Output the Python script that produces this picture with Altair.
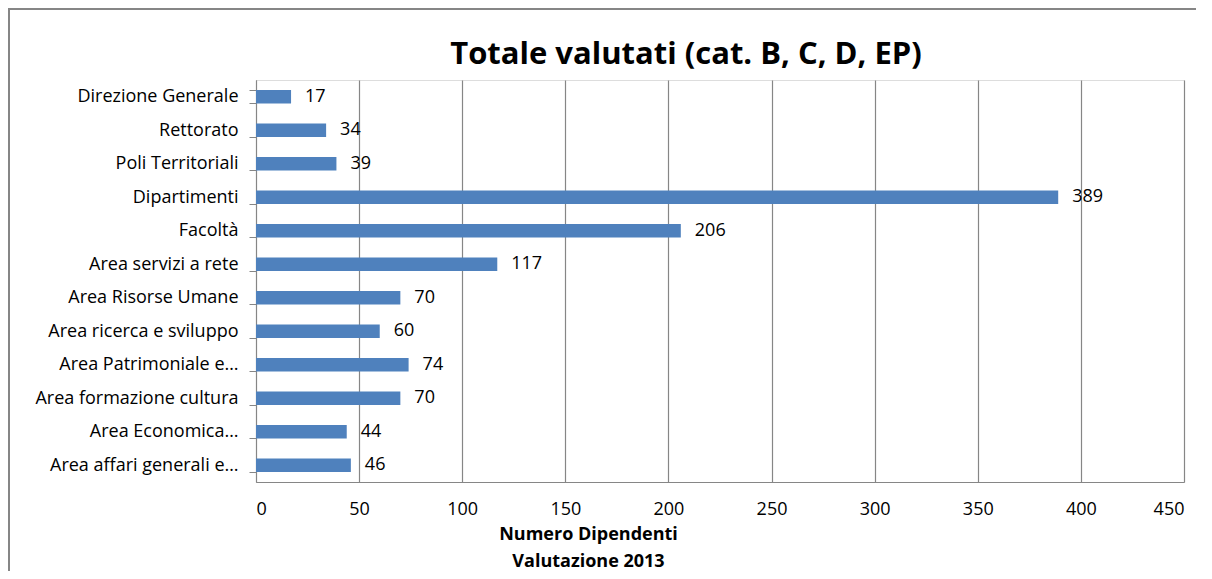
import altair as alt
import pandas as pd

categories = [
    "Direzione Generale",
    "Rettorato",
    "Poli Territoriali",
    "Dipartimenti",
    "Facoltà",
    "Area servizi a rete",
    "Area Risorse Umane",
    "Area ricerca e sviluppo",
    "Area Patrimoniale e…",
    "Area formazione cultura",
    "Area Economica…",
    "Area affari generali e…",
]
values = [17, 34, 39, 389, 206, 117, 70, 60, 74, 70, 44, 46]
x_ticks = [0, 50, 100, 150, 200, 250, 300, 350, 400, 450]
chart_title = "Totale valutati (cat. B, C, D, EP)"

df = pd.DataFrame({"cat": categories, "val": values})

FONT = "Open Sans"
GRAY = "#868686"
W, H = 928, 402

y_enc = alt.Y(
    "cat:N",
    sort=categories,
    scale=alt.Scale(paddingInner=0.6, paddingOuter=0.3),
    axis=alt.Axis(
        title=None,
        tickBand="extent",
        tickSize=7,
        tickColor=GRAY,
        domainColor=GRAY,
        labelPadding=11,
        labelFontSize=18,
        labelColor="#000000",
        labelFont=FONT,
        labelLimit=300,
        grid=False,
    ),
)

x_enc = alt.X(
    "val:Q",
    scale=alt.Scale(domain=[0, 450], nice=False),
    axis=alt.Axis(
        values=x_ticks,
        title=["Numero Dipendenti", "Valutazione 2013"],
        titleX=332,
        titleY=43,
        titleBaseline="top",
        titleFontSize=18,
        titleFont=FONT,
        titleFontWeight="bold",
        titleColor="#000000",
        titleLineHeight=27,
        ticks=False,
        labelPadding=18,
        labelFontSize=18,
        labelFont=FONT,
        labelColor="#000000",
        domainColor=GRAY,
        grid=True,
        gridColor=GRAY,
        gridWidth=1.2,
        gridOpacity=1,
    ),
)

border = alt.Chart(pd.DataFrame({"a": [0]})).mark_rect(
    fill=None, stroke=GRAY, strokeWidth=2
).encode(
    x=alt.value(-247), x2=alt.value(1100), y=alt.value(-71), y2=alt.value(700)
)

title_mark = alt.Chart(pd.DataFrame({"t": [chart_title]})).mark_text(
    align="center", baseline="middle", fontSize=31, font=FONT, fontWeight="bold",
    color="#000000",
).encode(text="t:N", x=alt.value(430), y=alt.value(-25))

bars = alt.Chart(df).mark_bar(color="#4F81BD").encode(x=x_enc, y=y_enc)

labels = alt.Chart(df).mark_text(
    align="left", baseline="middle", dx=14, fontSize=18, font=FONT, color="#000000"
).encode(x=alt.X("val:Q"), y=alt.Y("cat:N", sort=categories), text="val:Q")

chart = (
    alt.layer(border, title_mark, bars, labels)
    .properties(
        width=W,
        height=H,
        autosize=alt.AutoSizeParams(type="none"),
        padding={"left": 248, "top": 72, "right": 12, "bottom": 89},
    )
    .configure_view(stroke=None)
    .configure(background="white")
)

chart.save("out.html", embed_options={"renderer": "svg", "actions": False})
